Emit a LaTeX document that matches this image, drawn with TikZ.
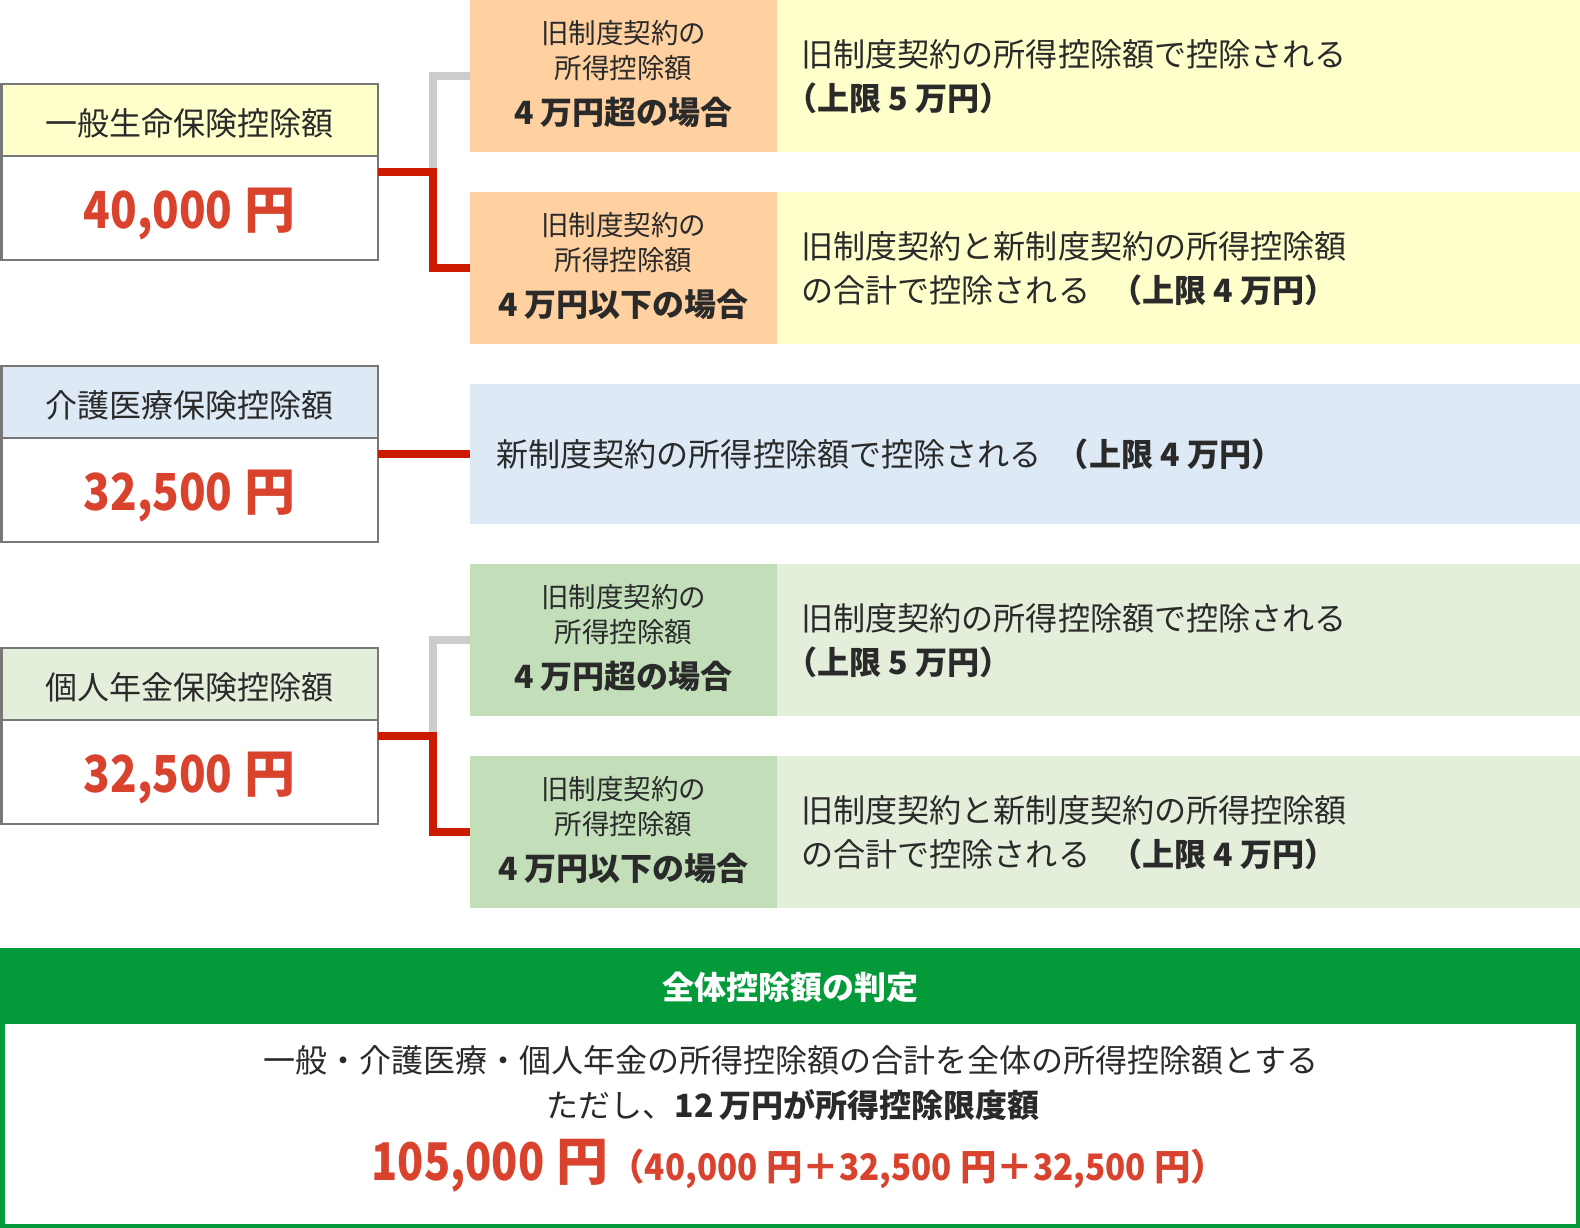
\documentclass[tikz,border=0pt]{standalone}
\usepackage{fontspec}
\usepackage{graphicx}
\setmainfont{Noto Sans CJK JP}
\newcommand{\cnum}[2][0.86]{\scalebox{#1}[1]{#2}}
\newcommand{\sinktext}[2]{\raisebox{-#1}[\height][\depth]{#2}}
\definecolor{txt}{HTML}{2A2A2A}
\definecolor{bordergray}{HTML}{777777}
\definecolor{linegray}{HTML}{CCCCCC}
\definecolor{linered}{HTML}{CC1A00}
\definecolor{valred}{HTML}{D9432E}
\definecolor{lyellow}{HTML}{FFFFCC}
\definecolor{lorange}{HTML}{FFD0A0}
\definecolor{lblue}{HTML}{DDEAF6}
\definecolor{lgreen}{HTML}{E3EFDA}
\definecolor{mgreen}{HTML}{C2DFBA}
\definecolor{dgreen}{HTML}{049A3A}
\tikzset{
  hdrbox/.style={draw=bordergray, line width=2.5pt, minimum width=376.5pt, minimum height=72pt, inner sep=0pt, outer sep=0pt, text=txt, font=\fontsize{32}{36}\selectfont},
  valbox/.style={draw=bordergray, line width=2.5pt, fill=white, minimum width=376.5pt, minimum height=104pt, inner sep=0pt, outer sep=0pt, text=valred, font=\bfseries\fontsize{51}{56}\selectfont},
  casebox/.style={minimum width=307pt, minimum height=152pt, inner sep=0pt, outer sep=0pt},
  descbox/.style={minimum width=803pt, minimum height=152pt, inner sep=0pt, outer sep=0pt},
  smalltxt/.style={text=txt, inner sep=0pt, font=\fontsize{27.5}{32}\selectfont},
  boldtxt/.style={text=txt, inner sep=0pt, font=\bfseries\fontsize{32}{36}\selectfont},
  desctxt/.style={text=txt, inner sep=0pt, anchor=west, align=left, font=\fontsize{32.1}{44}\selectfont},
  redline/.style={draw=linered, line width=8pt},
  grayline/.style={draw=linegray, line width=8pt},
}
\begin{document}
\begin{tikzpicture}[x=1pt, y=-1pt]
\useasboundingbox (0,0) rectangle (1580,1228);
\fill[white] (0,0) rectangle (1580,1228);

% ---------- group 1: general life insurance ----------
\node[casebox, fill=lorange] (o1) at (623.5,76) {};
\node[descbox, fill=lyellow] (y1) at (1178.5,76) {};
\node[casebox, fill=lorange] (o2) at (623.5,268) {};
\node[descbox, fill=lyellow] (y2) at (1178.5,268) {};
\node[smalltxt] (o1a) at ([yshift=-33pt]o1.north) {旧制度契約の};
\node[smalltxt] (o1b) at ([yshift=-68pt]o1.north) {所得控除額};
\node[boldtxt] (o1c) at ([yshift=-112pt]o1.north) {4 万円超の場合};
\node[smalltxt] (o2a) at ([yshift=-33pt]o2.north) {旧制度契約の};
\node[smalltxt] (o2b) at ([yshift=-68pt]o2.north) {所得控除額};
\node[boldtxt] (o2c) at ([yshift=-112pt]o2.north) {4 万円以下の場合};
\node[desctxt] (y1t) at ([xshift=24pt,yshift=-1pt]y1.west) {旧制度契約の所得控除額で控除される\\{\bfseries\kern-0.5em （上限 5 万円）}};
\node[desctxt] (y2t) at ([xshift=24pt,yshift=-1pt]y2.west) {旧制度契約と新制度契約の所得控除額\\の合計で控除される\hspace{20pt}{\bfseries （上限 4 万円）}};

\node[hdrbox, fill=lyellow] (h1) at (189.5,120) {\sinktext{3pt}{一般生命保険控除額}};
\node[valbox] (v1) at (189.5,208) {\sinktext{6pt}{\cnum{40,000} 円}};

\draw[grayline] ([xshift=55pt,yshift=-16pt]v1.north east) |- (o1.west);
\draw[redline] ([yshift=-16pt]v1.north east) -- ++(55,0) |- (o2.west);

% ---------- group 2: nursing / medical ----------
\node[minimum width=1110pt, minimum height=139.5pt, inner sep=0pt, outer sep=0pt, fill=lblue] (b1) at (1025,453.75) {};
\node[desctxt] (b1t) at ([xshift=26pt,yshift=-1pt]b1.west) {新制度契約の所得控除額で控除される\hspace{15pt}{\bfseries （上限 4 万円）}};

\node[hdrbox, fill=lblue] (h2) at (189.5,402) {\sinktext{3pt}{介護医療保険控除額}};
\node[valbox] (v2) at (189.5,490) {\sinktext{6pt}{\cnum{32,500} 円}};

\draw[redline] ([yshift=-16pt]v2.north east) -- ([yshift=-16pt]v2.north east -| b1.west);

% ---------- group 3: private pension ----------
\node[casebox, fill=mgreen] (g1) at (623.5,640) {};
\node[descbox, fill=lgreen] (gr1) at (1178.5,640) {};
\node[casebox, fill=mgreen] (g2) at (623.5,832) {};
\node[descbox, fill=lgreen] (gr2) at (1178.5,832) {};
\node[smalltxt] (g1a) at ([yshift=-33pt]g1.north) {旧制度契約の};
\node[smalltxt] (g1b) at ([yshift=-68pt]g1.north) {所得控除額};
\node[boldtxt] (g1c) at ([yshift=-112pt]g1.north) {4 万円超の場合};
\node[smalltxt] (g2a) at ([yshift=-33pt]g2.north) {旧制度契約の};
\node[smalltxt] (g2b) at ([yshift=-68pt]g2.north) {所得控除額};
\node[boldtxt] (g2c) at ([yshift=-112pt]g2.north) {4 万円以下の場合};
\node[desctxt] (gr1t) at ([xshift=24pt,yshift=-1pt]gr1.west) {旧制度契約の所得控除額で控除される\\{\bfseries\kern-0.5em （上限 5 万円）}};
\node[desctxt] (gr2t) at ([xshift=24pt,yshift=-1pt]gr2.west) {旧制度契約と新制度契約の所得控除額\\の合計で控除される\hspace{20pt}{\bfseries （上限 4 万円）}};

\node[hdrbox, fill=lgreen] (h3) at (189.5,684) {\sinktext{3pt}{個人年金保険控除額}};
\node[valbox] (v3) at (189.5,772) {\sinktext{6pt}{\cnum{32,500} 円}};

\draw[grayline] ([xshift=55pt,yshift=-16pt]v3.north east) |- (g1.west);
\draw[redline] ([yshift=-16pt]v3.north east) -- ++(55,0) |- (g2.west);

% ---------- total ----------
\node[draw=dgreen, line width=4.5pt, fill=white, minimum width=1575.5pt, minimum height=204.75pt, inner sep=0pt, outer sep=0pt] (tb) at (790,1123.4) {};
\node[fill=dgreen, minimum width=1580pt, minimum height=76pt, inner sep=0pt, outer sep=0pt, text=white, font=\bfseries\fontsize{32}{36}\selectfont] (th) at (790,985.5) {\sinktext{2pt}{全体控除額の判定}};
\node[text=txt, inner sep=0pt, font=\fontsize{32}{36}\selectfont] (tl1) at (791,1060) {一般・介護医療・個人年金の所得控除額の合計を全体の所得控除額とする};
\node[text=txt, inner sep=0pt, font=\fontsize{32}{36}\selectfont] (tl2) at (793,1105) {ただし、{\bfseries 12\,万円が所得控除限度額}};
\node[text=valred, inner sep=0pt, font=\bfseries] (tl3) at (799.5,1166) {{\fontsize{52}{56}\selectfont \cnum[0.83]{105,000} 円}{\fontsize{36.5}{40}\selectfont （\cnum[0.91]{40,000} 円＋\cnum[0.91]{32,500} 円＋\cnum[0.91]{32,500} 円）}};
\end{tikzpicture}
\end{document}
